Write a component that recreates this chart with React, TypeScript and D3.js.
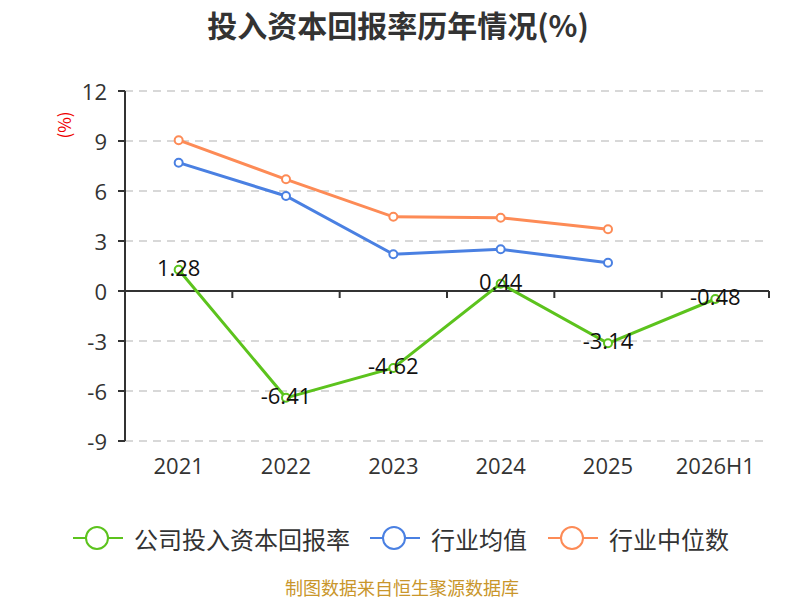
import * as d3 from 'd3'

const categories = ['2021', '2022', '2023', '2024', '2025', '2026H1']
const companyValues = [1.28, -6.41, -4.62, 0.44, -3.14, -0.48]
const industryAvg = [7.7, 5.7, 2.2, 2.5, 1.7]
const industryMedian = [9.05, 6.7, 4.45, 4.4, 3.7]
const yTicks = [-9, -6, -3, 0, 3, 6, 9, 12]

const W = 800, H = 600
const m = { left: 125, right: 31, top: 91, bottom: 159 }

const GREEN = '#5cc31d', BLUE = '#4a80e2', ORANGE = '#fd8b56'

export default function App() {
  const x = d3.scaleBand().domain(categories).range([m.left, W - m.right])
  const y = d3.scaleLinear().domain([-9, 12]).range([H - m.bottom, m.top])
  const cx = (c: string) => (x(c) ?? 0) + x.bandwidth() / 2

  const line = d3.line<[string, number]>().x(d => cx(d[0])).y(d => y(d[1]))
  const series = [
    { name: '公司投入资本回报率', color: GREEN, values: companyValues },
    { name: '行业均值', color: BLUE, values: industryAvg },
    { name: '行业中位数', color: ORANGE, values: industryMedian },
  ]
  const legendX = [73, 370, 548]
  const font = '"Noto Sans CJK SC", "Noto Sans", sans-serif'
  const numFont = '"Open Sans", "Noto Sans", sans-serif'

  return (
    <svg width={W} height={H} style={{ position: 'absolute', left: 0, top: 0, fontFamily: font }}>
      <rect width={W} height={H} fill="#fff" />
      <text x={398} y={24} textAnchor="middle" dominantBaseline="central" fontSize={30} fontWeight="bold" fill="#333">投入资本回报率历年情况(%)</text>
      <text transform="translate(63,125) rotate(-90)" textAnchor="middle" dominantBaseline="central" fontSize={17} fill="#e00">(%)</text>

      {yTicks.filter(t => t !== 0).map(t => (
        <line key={t} x1={m.left} x2={W - m.right} y1={y(t)} y2={y(t)} stroke="#ccc" strokeWidth={1.5} strokeDasharray="8,6" />
      ))}
      <g fontFamily={numFont}>
        {yTicks.map(t => (
          <g key={t}>
            <line x1={m.left - 7} x2={m.left} y1={y(t)} y2={y(t)} stroke="#333" strokeWidth={2} />
            <text x={m.left - 18} y={y(t)} textAnchor="end" dominantBaseline="central" fontSize={22} fill="#333">{t}</text>
          </g>
        ))}
        {categories.map(c => (
          <text key={c} x={cx(c)} y={465} textAnchor="middle" dominantBaseline="central" fontSize={22} fill="#333">{c}</text>
        ))}
      </g>
      <line x1={m.left} x2={m.left} y1={y(12)} y2={y(-9)} stroke="#333" strokeWidth={2} />
      <line x1={m.left} x2={W - m.right} y1={y(0)} y2={y(0)} stroke="#333" strokeWidth={2} />
      {categories.map(c => (
        <line key={c} x1={(x(c) ?? 0) + x.bandwidth()} x2={(x(c) ?? 0) + x.bandwidth()} y1={y(0)} y2={y(0) + 7} stroke="#333" strokeWidth={2} />
      ))}

      {series.map(s => {
        const pts = s.values.map((v, i) => [categories[i], v] as [string, number])
        return (
          <g key={s.name}>
            <path d={line(pts) ?? ''} fill="none" stroke={s.color} strokeWidth={3} />
            {pts.map(p => (
              <circle key={p[0]} cx={cx(p[0])} cy={y(p[1])} r={4} fill="#fff" stroke={s.color} strokeWidth={2} />
            ))}
          </g>
        )
      })}
      {companyValues.map((v, i) => (
        <text key={i} x={cx(categories[i])} y={y(v) - 3} textAnchor="middle" dominantBaseline="central" fontSize={22} fontFamily={numFont} fill="#111">{v.toFixed(2)}</text>
      ))}

      {series.map((s, i) => (
        <g key={s.name} transform={`translate(${legendX[i]},538)`}>
          <line x1={0} x2={50} y1={0} y2={0} stroke={s.color} strokeWidth={2} />
          <circle cx={24} cy={0} r={11} fill="#fff" stroke={s.color} strokeWidth={2} />
          <text x={61} y={0} dominantBaseline="central" fontSize={24} fill="#333">{s.name}</text>
        </g>
      ))}

      <text x={402} y={587} textAnchor="middle" dominantBaseline="central" fontSize={18} fill="#c9962b">制图数据来自恒生聚源数据库</text>
    </svg>
  )
}
